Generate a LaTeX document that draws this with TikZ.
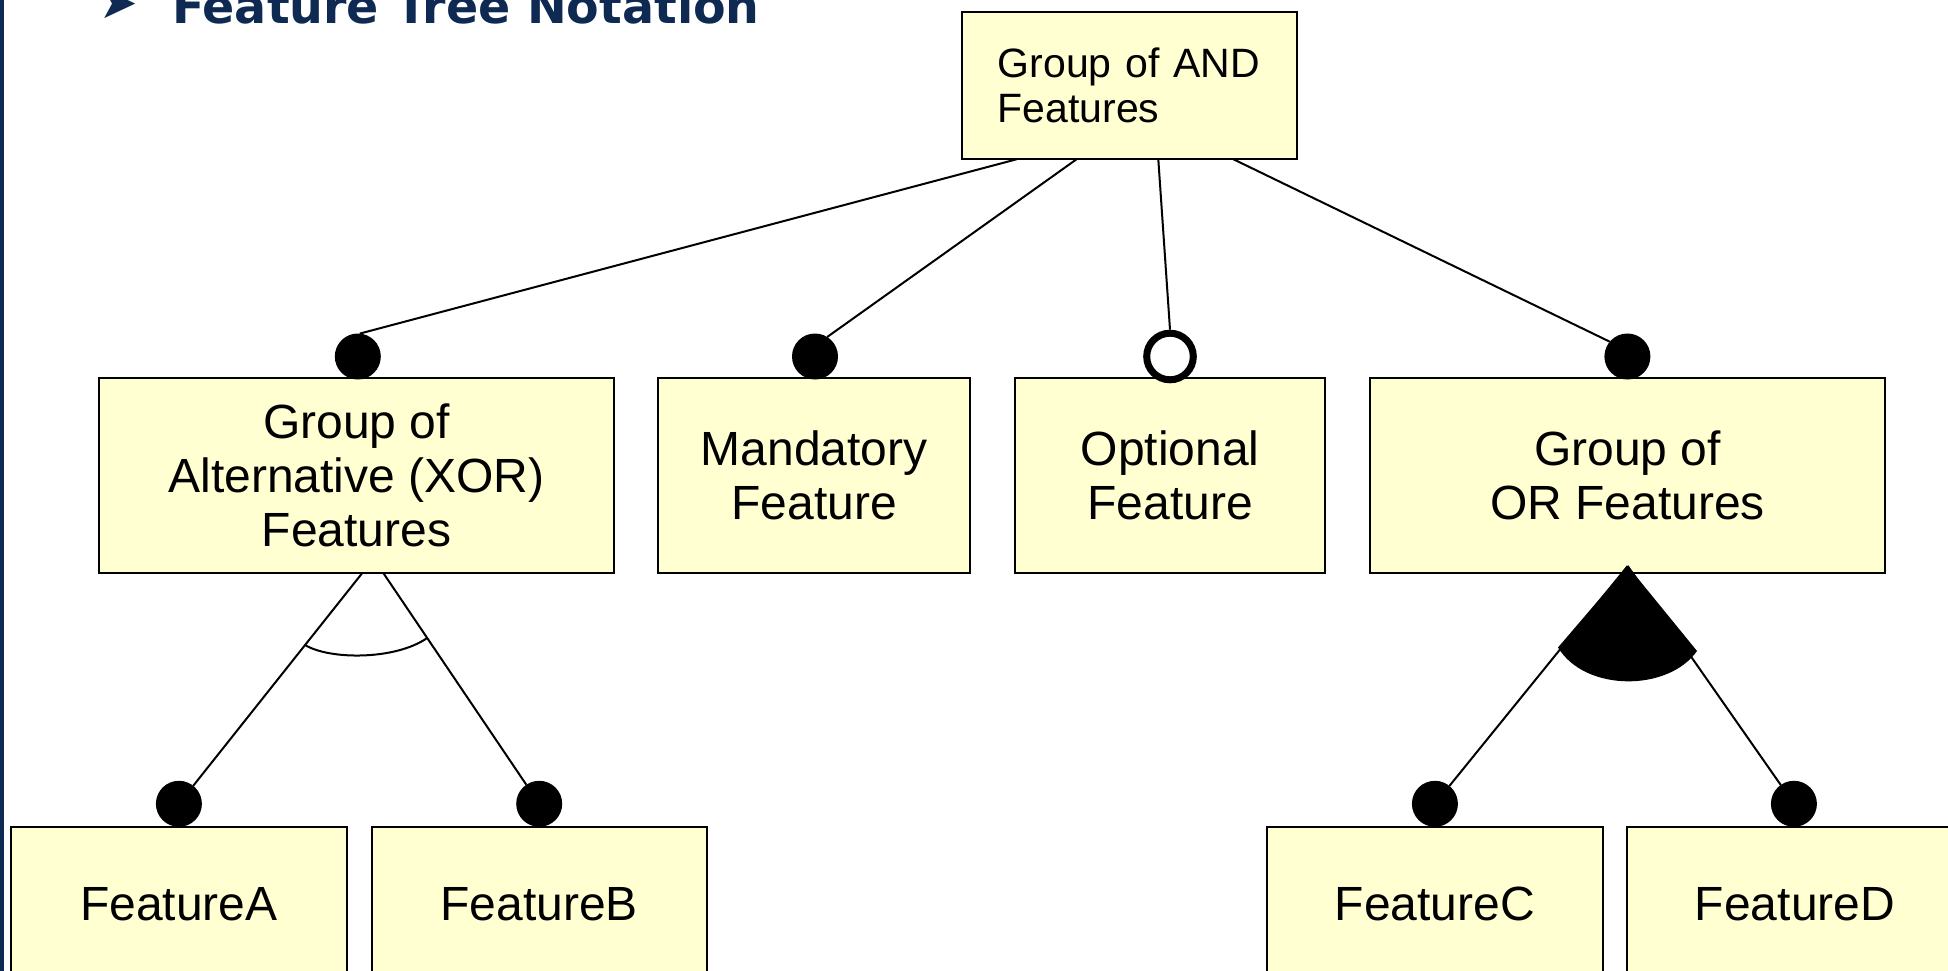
\documentclass[tikz,border=0pt]{standalone}
\usepackage{fontspec}
\setmainfont{Liberation Sans}
\newfontfamily\titlefont{DejaVu Sans}
\usetikzlibrary{calc}
\definecolor{boxfill}{HTML}{FFFFD2}
\definecolor{navy}{HTML}{0E2A52}
\begin{document}
\begin{tikzpicture}[x=1pt,y=-1pt,
  fbox/.style={draw=black, line width=2pt, fill=boxfill, inner sep=0pt, align=center,
               font=\fontsize{48}{54}\selectfont},
  midbox/.style={fbox, minimum height=195pt},
  lowbox/.style={fbox, minimum width=335.4pt, minimum height=154pt},
  dotf/.style={circle, fill=black, minimum size=46pt, inner sep=0pt, outer sep=0pt},
  doto/.style={circle, draw=black, line width=7pt, fill=white, minimum size=46.6pt, inner sep=0pt},
  conn/.style={line width=2pt}]
\useasboundingbox (0,0) rectangle (1948,971);
\clip (0,0) rectangle (1948,971);
\fill[white] (0,0) rectangle (1948,971);
\fill[navy] (0,0) rectangle (3.5,971);

% title
\node[anchor=base west, inner sep=0pt, text=navy, font=\titlefont\fontsize{46}{48}\selectfont] (bullet) at (99,19) {➤};
\node[anchor=base west, inner sep=0pt, text=navy, font=\titlefont\bfseries\fontsize{47.5}{50}\selectfont] (title) at (172,24) {Feature Tree Notation};

% boxes
\node[fbox, minimum width=335.7pt, minimum height=147.6pt, text width=263.7pt, inner xsep=36pt,
      align=left, font=\fontsize{41}{44.7}\selectfont] (and) at (1129.5,85.5) {Group of AND\\Features};

\node[midbox, minimum width=514.3pt] (xor) at (356.5,475.2) {Group of\\Alternative (XOR)\\Features};
\node[midbox, minimum width=311.8pt] (mand) at (814.3,475.2) {Mandatory\\Feature};
\node[midbox, minimum width=310.5pt] (opt) at (1170.2,475.2) {Optional\\Feature};
\node[midbox, minimum width=514.3pt] (orb) at (1627.4,475.2) {Group of\\OR Features};

\node[lowbox] (fa) at (178.9,904) {FeatureA};
\node[lowbox] (fb) at (539.2,904) {FeatureB};
\node[lowbox] (fc) at (1434.8,904) {FeatureC};
\node[lowbox] (fd) at (1795,904) {FeatureD};

% dots
\node[dotf] (dx) at (357.8,356.5) {};
\node[dotf] (dm) at (815,356.5) {};
\node[doto] (do) at (1170,356.5) {};
\node[dotf] (dor) at (1627.4,356.5) {};
\node[dotf] (da) at (178.9,803.8) {};
\node[dotf] (db) at (539.2,803.8) {};
\node[dotf] (dc) at (1434.9,803.8) {};
\node[dotf] (dd) at (1793.9,803.8) {};

% connectors from AND group
\coordinate (a1) at (1016.5,159.3);
\coordinate (a2) at (1076.5,159.3);
\coordinate (a3) at (1158.3,159.3);
\coordinate (a4) at (1233.5,159.3);
\draw[conn] (a1) -- (dx.85);
\draw[conn] (a2) -- (dm.58);
\draw[conn] (a3) -- (do.north);
\draw[conn] (a4) -- (dor.140);

% XOR group
\coordinate (x1) at (362.3,573);
\coordinate (x2) at (383.3,573);
\draw[conn] (x1) -- (da);
\draw[conn] (x2) -- (db);
\draw[conn] (305,645) .. controls (330,660) and (395,660) .. (426.7,638.3);

% OR group
\coordinate (apex) at (1627.7,566);
\fill[black] (apex) -- (1558,647.5) .. controls (1585,692) and (1668,692) .. (1697,651) -- cycle;
\draw[conn] (apex) -- (dc);
\draw[conn] (apex) -- (dd);
\end{tikzpicture}
\end{document}
